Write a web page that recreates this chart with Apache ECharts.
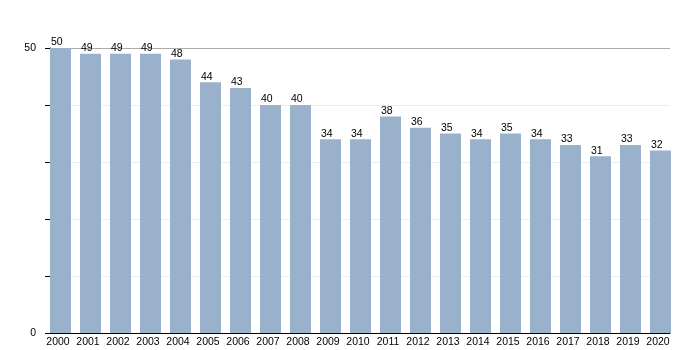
<!DOCTYPE html>
<html>
<head>
<meta charset="utf-8">
<script src="https://cdn.jsdelivr.net/npm/echarts@6/dist/echarts.min.js"></script>
<style>
  html, body { margin: 0; padding: 0; background: #fff; }
  #chart { width: 700px; height: 350px; }
</style>
</head>
<body>
<div id="chart"></div>
<script>
// Yearly values, 2000–2020
const years = [2000, 2001, 2002, 2003, 2004, 2005, 2006, 2007, 2008, 2009, 2010,
               2011, 2012, 2013, 2014, 2015, 2016, 2017, 2018, 2019, 2020];
const values = [50, 49, 49, 49, 48, 44, 43, 40, 40, 34, 34,
                38, 36, 35, 34, 35, 34, 33, 31, 33, 32];
const yLabelValues = [0, 50];

const chart = echarts.init(document.getElementById('chart'), null, { renderer: 'canvas' });

const font = 'Liberation Sans, Arial, sans-serif';

chart.setOption({
  animation: false,
  backgroundColor: '#ffffff',
  grid: { left: 50, right: 30, top: 48, bottom: 17, containLabel: false },
  xAxis: {
    type: 'value',
    min: 1999.65,
    max: 2020.3167,
    axisLine: { show: true, onZero: false, lineStyle: { color: '#000', width: 1 } },
    axisTick: { show: false },
    splitLine: { show: false },
    axisLabel: {
      customValues: years,
      color: '#000',
      fontFamily: font,
      fontSize: 10.5,
      margin: 4,
      padding: [0, 5, 0, 0],
      formatter: v => String(v)
    }
  },
  yAxis: {
    type: 'value',
    min: 0,
    max: 50,
    interval: 10,
    axisLine: { show: true, lineStyle: { color: '#000', width: 1 } },
    axisTick: { show: true, length: 5, lineStyle: { color: '#000' } },
    axisLabel: {
      customValues: yLabelValues,
      color: '#000',
      fontFamily: font,
      fontSize: 10.5,
      margin: 14
    },
    splitLine: {
      show: true,
      lineStyle: {
        color: ['#e6e6e6', '#ededed', '#ededed', '#ededed', '#ededed', '#aaaaaa'],
        width: 1
      }
    }
  },
  series: [{
    type: 'bar',
    barWidth: 21,
    data: years.map((y, i) => [y, values[i]]),
    itemStyle: { color: '#9ab1cb' },
    label: {
      show: true,
      position: [1, 0],
      align: 'left',
      verticalAlign: 'bottom',
      color: '#000',
      fontFamily: font,
      fontSize: 10.5,
      formatter: p => String(p.value[1])
    }
  }]
});
</script>
</body>
</html>
